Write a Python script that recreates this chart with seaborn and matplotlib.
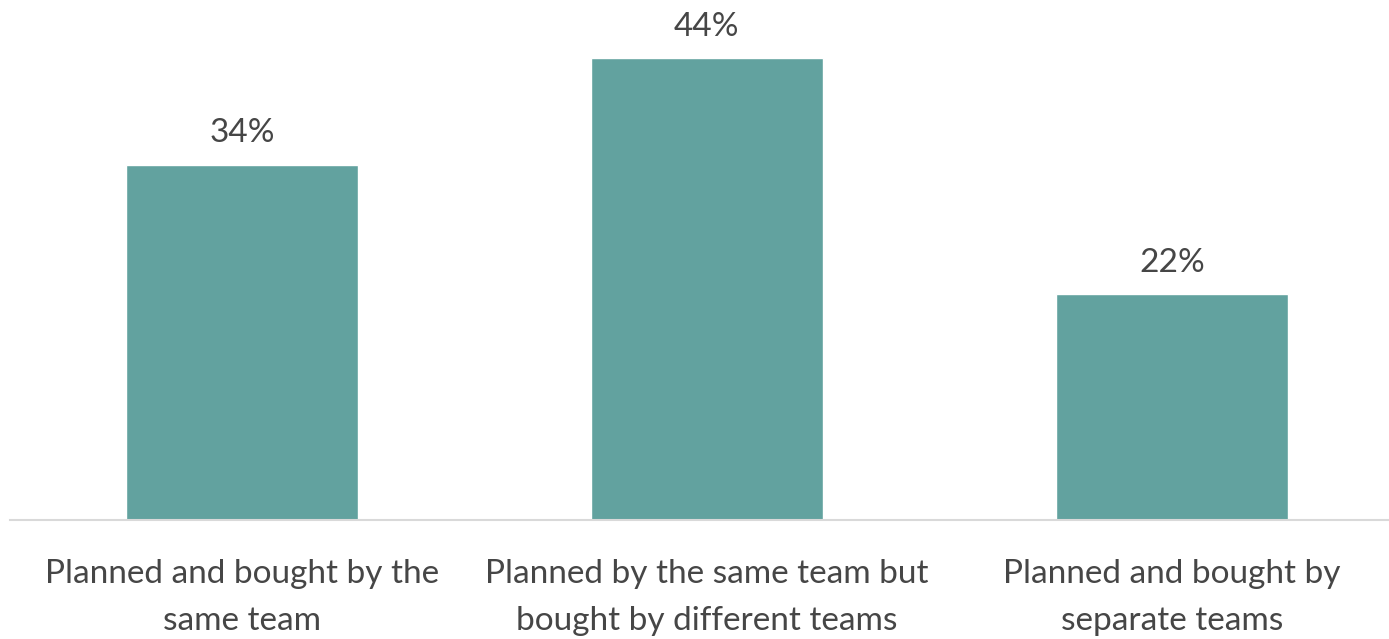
import matplotlib
matplotlib.use("Agg")
import matplotlib.pyplot as plt
import seaborn as sns
import pandas as pd

# Chart data (labels show rounded percentages)
categories = [
    "Planned and bought by the\nsame team",
    "Planned by the same team but\nbought by different teams",
    "Planned and bought by\nseparate teams",
]
shares = [0.34, 0.442, 0.216]

df = pd.DataFrame({"Category": categories, "Share": shares})

sns.set_style("white")
plt.rcParams["font.family"] = ["Lato", "DejaVu Sans"]

fig = plt.figure(figsize=(13.89, 6.39), dpi=100)
ax = fig.add_axes([9.5 / 1389, 119 / 639, 1 - 9.5 / 1389, 520 / 639])

sns.barplot(data=df, x="Category", y="Share", color="#62A29F",
            saturation=1, width=0.5, ax=ax)

for p, v in zip(ax.patches, shares):
    ax.annotate(f"{v:.0%}", (p.get_x() + p.get_width() / 2, p.get_height()),
                xytext=(0, 12), textcoords="offset points", ha="center",
                va="bottom", fontsize=24, color="#464646")

ax.set_xlim(-0.5, 2.467)
ax.set_ylim(0, 0.498)
ax.set_xlabel("")
ax.set_ylabel("")
ax.set_yticks([])
ax.tick_params(axis="x", length=0, pad=28, labelsize=24, colors="#464646")
for lbl in ax.get_xticklabels():
    lbl.set_linespacing(1.7)

for s in ["top", "left", "right"]:
    ax.spines[s].set_visible(False)
ax.spines["bottom"].set_color("#D9D9D9")
ax.spines["bottom"].set_linewidth(1.5)

fig.savefig("out.png", dpi=100)
